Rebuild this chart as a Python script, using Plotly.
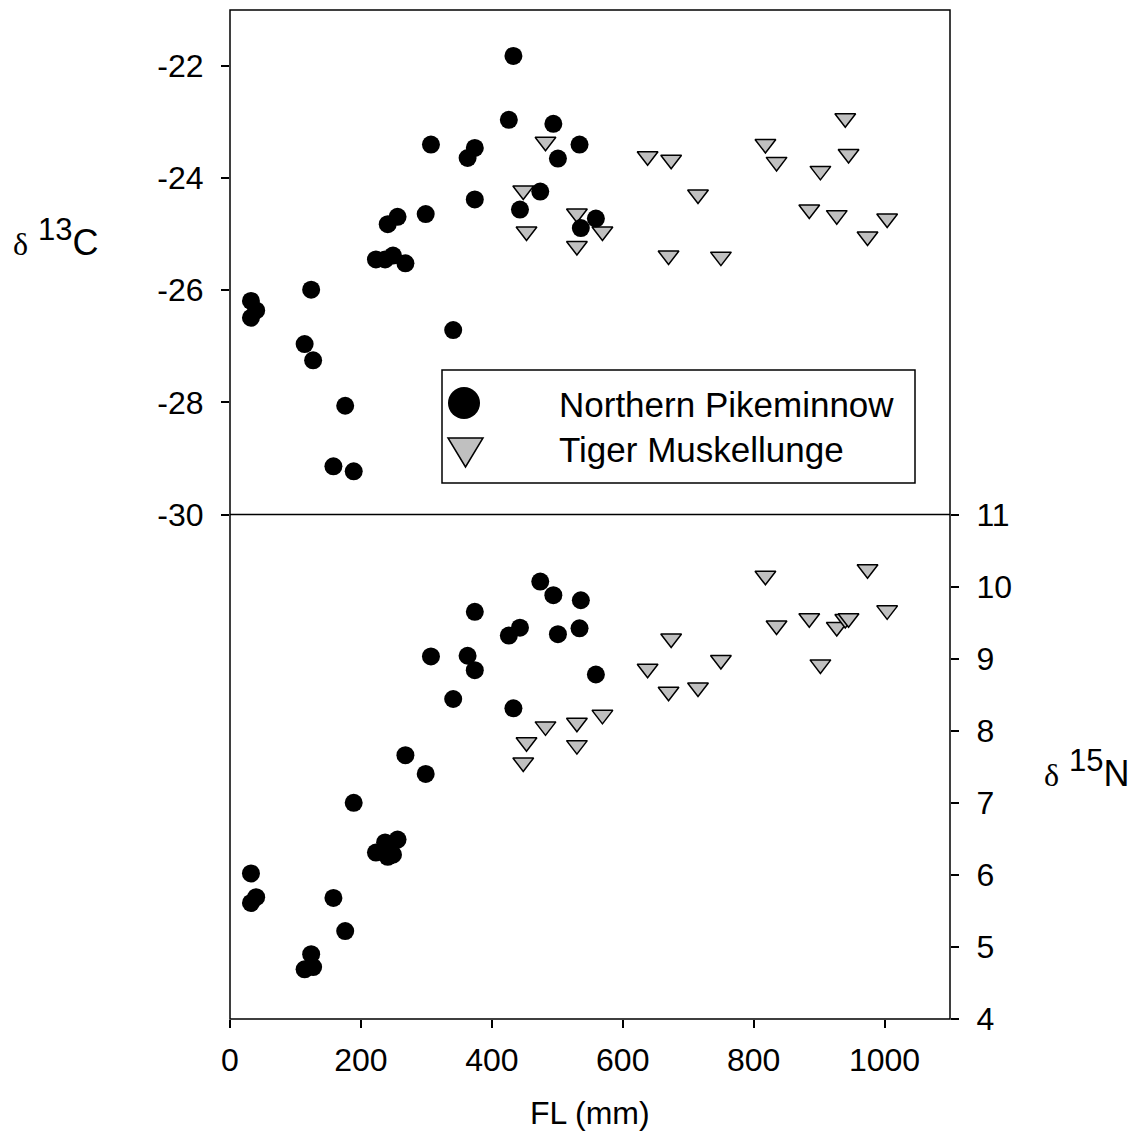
import plotly.graph_objects as go

# Northern Pikeminnow: fork length (mm), d13C, d15N
fl_np = [32, 32, 40, 114, 124, 127, 158, 176, 189,
         223, 237, 241, 249, 256, 268,
         299, 307, 341, 363, 374, 374,
         426, 433, 443, 474, 494, 501,
         534, 536, 559]
d13c_np = [-26.19, -26.49, -26.36, -26.96, -25.99, -27.25, -29.14, -28.06, -29.23,
           -25.45, -25.45, -24.82, -25.38, -24.69, -25.52,
           -24.64, -23.40, -26.71, -23.64, -23.46, -24.38,
           -22.96, -21.82, -24.56, -24.24, -23.03, -23.65,
           -23.40, -24.89, -24.72]
d15n_np = [6.02, 5.61, 5.69, 4.69, 4.90, 4.72, 5.68, 5.22, 7.00,
           6.31, 6.45, 6.25, 6.28, 6.49, 7.66,
           7.40, 9.03, 8.44, 9.04, 9.65, 8.84,
           9.32, 8.31, 9.43, 10.07, 9.88, 9.34,
           9.42, 9.81, 8.78]

# Tiger Muskellunge
fl_tm = [448, 453, 482, 530, 530, 569, 638, 670, 674, 715,
         750, 818, 835, 885, 902, 927, 940, 945, 974, 1004]
d13c_tm = [-24.22, -24.95, -23.35, -24.63, -25.21, -24.95, -23.61, -25.38, -23.67, -24.29,
           -25.40, -23.39, -23.71, -24.56, -23.87, -24.66, -22.93, -23.57, -25.04, -24.72]
d15n_tm = [7.56, 7.84, 8.06, 8.11, 7.80, 8.22, 8.86, 8.54, 9.28, 8.60,
           8.98, 10.15, 9.46, 9.56, 8.92, 9.44, 9.55, 9.56, 10.24, 9.67]

x_ticks = [0, 200, 400, 600, 800, 1000]
c_ticks = [-30, -28, -26, -24, -22]
n_ticks = [4, 5, 6, 7, 8, 9, 10, 11]
series_names = ["Northern Pikeminnow", "Tiger Muskellunge"]

FONT = "Liberation Sans, Arial, sans-serif"
TRI_FILL = "#C0C0C0"

# the page body has an 8px margin, so the figure is drawn 8px smaller
# and every page position below is shifted back by that much
BODY = 8
W, H = 1140 - 2 * BODY, 1141 - 2 * BODY
# plot area, in page pixels
PL, PR, PT, PB = 230, 950, 10, 1019


def px(x):
    return (x - PL) / (PR - PL)


def py(y):
    return (PB - y) / (PB - PT)


tri = dict(symbol="triangle-down", size=18, color=TRI_FILL, line=dict(color="black", width=1.5))
dot = dict(symbol="circle", size=18, color="black", line=dict(width=0))

fig = go.Figure()
fig.add_trace(go.Scatter(x=fl_tm, y=d13c_tm, mode="markers", marker=tri, name=series_names[1], xaxis="x", yaxis="y"))
fig.add_trace(go.Scatter(x=fl_np, y=d13c_np, mode="markers", marker=dot, name=series_names[0], xaxis="x", yaxis="y"))
fig.add_trace(go.Scatter(x=fl_tm, y=d15n_tm, mode="markers", marker=tri, name=series_names[1], xaxis="x", yaxis="y2"))
fig.add_trace(go.Scatter(x=fl_np, y=d15n_np, mode="markers", marker=dot, name=series_names[0], xaxis="x", yaxis="y2"))

axis_common = dict(
    ticks="outside", ticklen=8, tickwidth=1.5, tickcolor="black",
    showgrid=False, zeroline=False, showline=False,
    tickfont=dict(family=FONT, size=32, color="black"),
)

fig.update_layout(
    width=W, height=H,
    margin=dict(l=PL - BODY, r=W - (PR - BODY), t=PT - BODY, b=H - (PB - BODY), autoexpand=False),
    plot_bgcolor="white", paper_bgcolor="white",
    showlegend=False,
    font=dict(family=FONT, size=32, color="black"),
    xaxis=dict(range=[0, 1100], tickvals=x_ticks, ticktext=[str(v) for v in x_ticks],
               anchor="y2", ticklabelstandoff=5, **axis_common),
    yaxis=dict(domain=[0.5, 1], range=[-30, -21], tickvals=c_ticks, ticktext=[str(v) for v in c_ticks],
               anchor="x", side="left", ticklabelstandoff=11, **axis_common),
    yaxis2=dict(domain=[0, 0.5], range=[4, 11], tickvals=n_ticks, ticktext=[str(v) for v in n_ticks],
                anchor="x", side="right", ticklabelstandoff=11, **axis_common),
)

# frame and the line between the two panels
fig.add_shape(type="rect", xref="paper", yref="paper", x0=0, y0=0, x1=1, y1=1,
              line=dict(color="black", width=1.5))
fig.add_shape(type="line", xref="paper", yref="paper", x0=0, y0=0.5, x1=1, y1=0.5,
              line=dict(color="black", width=1.5))

# legend box drawn by hand so the symbols can be as big as in the original
fig.add_shape(type="rect", xref="paper", yref="paper",
              x0=px(442), x1=px(915), y0=py(483), y1=py(370),
              line=dict(color="black", width=1.5), fillcolor="white")
fig.add_shape(type="circle", xref="paper", yref="paper",
              x0=px(448), x1=px(480), y0=py(419), y1=py(387),
              line=dict(width=0), fillcolor="black")
fig.add_shape(type="path", xref="paper", yref="paper",
              path=f"M {px(448)} {py(438)} L {px(483)} {py(438)} L {px(465.5)} {py(467)} Z",
              line=dict(color="black", width=1.5), fillcolor=TRI_FILL)
for name, yc in zip(series_names, [404, 449]):
    fig.add_annotation(x=px(557), y=py(yc), xref="paper", yref="paper", text=name,
                       showarrow=False, xanchor="left", yanchor="middle",
                       font=dict(family=FONT, size=35, color="black"))

delta = "<span style='font-family:Liberation Serif;font-size:32px'>δ</span>"
fig.add_annotation(x=px(56), y=py(238), xref="paper", yref="paper",
                   text=delta + " <sup><span style='font-size:31px'>13</span></sup>C",
                   showarrow=False, xanchor="center", yanchor="middle",
                   font=dict(family=FONT, size=36, color="black"))
fig.add_annotation(x=px(1087), y=py(768), xref="paper", yref="paper",
                   text=delta + " <sup><span style='font-size:31px'>15</span></sup>N",
                   showarrow=False, xanchor="center", yanchor="middle",
                   font=dict(family=FONT, size=36, color="black"))
fig.add_annotation(x=0.5, y=py(1113), xref="paper", yref="paper", text="FL (mm)",
                   showarrow=False, xanchor="center", yanchor="middle",
                   font=dict(family=FONT, size=32, color="black"))

fig.write_html("out.html")
